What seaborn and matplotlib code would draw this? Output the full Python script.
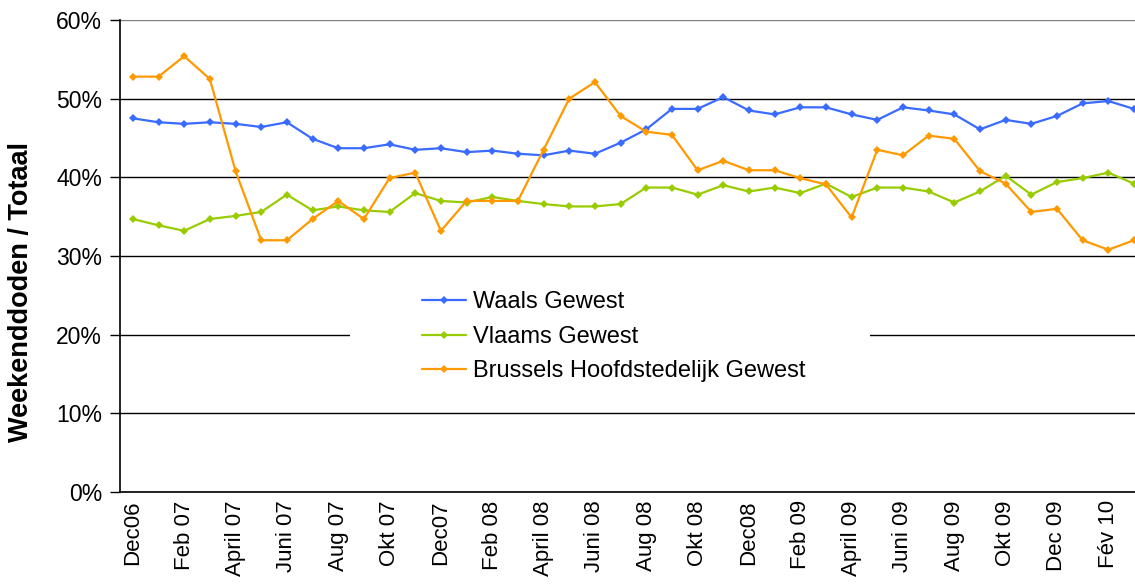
import matplotlib
matplotlib.use("Agg")
import matplotlib.pyplot as plt
import numpy as np
import pandas as pd
import seaborn as sns
from matplotlib.patches import Rectangle
from matplotlib.ticker import PercentFormatter, FixedLocator

# maanden Dec06 .. Maart 10
maanden = [
    "Dec06", "Jan 07", "Feb 07", "Maart 07", "April 07", "Mei 07", "Juni 07", "Juli 07",
    "Aug 07", "Sept 07", "Okt 07", "Nov 07", "Dec07", "Jan 08", "Feb 08", "Maart 08",
    "April 08", "Mei 08", "Juni 08", "Juli 08", "Aug 08", "Sept 08", "Okt 08", "Nov 08",
    "Dec08", "Jan 09", "Feb 09", "Maart 09", "April 09", "Mei 09", "Juni 09", "Juli 09",
    "Aug 09", "Sept 09", "Okt 09", "Nov 09", "Dec 09", "Jan 10", "Fév 10", "Maart 10",
]

waals = [47.5, 47.0, 46.8, 47.0, 46.8, 46.4, 47.0, 44.9, 43.7, 43.7, 44.2, 43.5, 43.7,
         43.2, 43.4, 43.0, 42.8, 43.4, 43.0, 44.4, 46.1, 48.7, 48.7, 50.2, 48.5, 48.0,
         48.9, 48.9, 48.0, 47.3, 48.9, 48.5, 48.0, 46.1, 47.3, 46.8, 47.8, 49.4, 49.7, 48.7]
vlaams = [34.7, 33.9, 33.2, 34.7, 35.1, 35.6, 37.8, 35.8, 36.3, 35.8, 35.6, 38.0, 37.0,
          36.8, 37.5, 37.0, 36.6, 36.3, 36.3, 36.6, 38.7, 38.7, 37.8, 39.0, 38.2, 38.7,
          38.0, 39.2, 37.5, 38.7, 38.7, 38.2, 36.8, 38.2, 40.2, 37.8, 39.4, 39.9, 40.6, 39.2]
brussel = [52.8, 52.8, 55.4, 52.5, 40.8, 32.0, 32.0, 34.7, 37.0, 34.7, 39.9, 40.6, 33.2,
           37.0, 37.0, 37.0, 43.5, 50.0, 52.1, 47.8, 45.8, 45.4, 40.9, 42.1, 40.9, 40.9,
           39.9, 39.1, 34.9, 43.5, 42.8, 45.3, 44.9, 40.8, 39.2, 35.6, 36.0, 32.0, 30.8, 32.0]

reeksen = ["Waals Gewest", "Vlaams Gewest", "Brussels Hoofdstedelijk Gewest"]
kleuren = ["#3A6BFF", "#99CC00", "#FF9900"]

df = pd.DataFrame({"idx": np.arange(len(maanden)), "maand": maanden,
                   reeksen[0]: waals, reeksen[1]: vlaams, reeksen[2]: brussel})

sns.set_style("white")
plt.rcParams["font.family"] = ["Liberation Sans", "DejaVu Sans"]
plt.rcParams["text.color"] = "black"
plt.rcParams["axes.labelcolor"] = "black"

fig = plt.figure(figsize=(11.35, 5.86), dpi=100)
ax = fig.add_axes([120 / 1135, 94 / 586, 1015 / 1135, 472 / 586])

for naam, kleur in zip(reeksen, kleuren):
    sns.lineplot(data=df, x="idx", y=naam, ax=ax, color=kleur, label=naam,
                 marker="D", markersize=4, markeredgewidth=0, linewidth=1.6, zorder=3)

# as-instellingen
ax.yaxis.set_major_locator(FixedLocator(np.arange(0, 61, 10)))
ax.yaxis.set_major_formatter(PercentFormatter(decimals=0))
ax.set_axisbelow(True)
ax.grid(axis="y", color="black", linewidth=1)
ax.yaxis.get_gridlines()[-1].set_color("#808080")

ax.set_xticks(df["idx"][::2])
ax.set_xticklabels(df["maand"][::2], rotation=90)
ax.set_xticks(np.arange(-0.5, 40, 1), minor=True)
ax.set_ylim(0, 60)
ax.set_xlim(-0.5, 39.04)
ax.tick_params(axis="x", which="major", length=0, pad=6, labelsize=16, labelcolor="black")
ax.tick_params(axis="x", which="minor", length=7, width=1, color="black", direction="out")
ax.tick_params(axis="y", length=7, width=1, color="black", direction="out",
               labelsize=16.5, pad=6, labelcolor="black")
ax.tick_params(bottom=True, left=True)

for s in ["top", "right"]:
    ax.spines[s].set_visible(False)
for s in ["left", "bottom"]:
    ax.spines[s].set_color("black")
    ax.spines[s].set_linewidth(1.2)

ax.set_xlabel("")
ax.set_ylabel("Weekenddoden / Totaal", fontsize=19.5, fontweight="bold")
ax.yaxis.set_label_coords(-0.085, 0.424)

# witte legendebox over het raster
ax.add_patch(Rectangle((0.2266, 0.22), 0.512, 0.22, transform=ax.transAxes,
                       facecolor="white", edgecolor="none", zorder=1))
ax.legend(loc="upper left", bbox_to_anchor=(0.2975, 0.425), frameon=False,
          fontsize=17, borderpad=0, borderaxespad=0, handlelength=1.86,
          handletextpad=0.3, labelspacing=0.53)

fig.savefig("out.png", dpi=100)
plt.close(fig)
